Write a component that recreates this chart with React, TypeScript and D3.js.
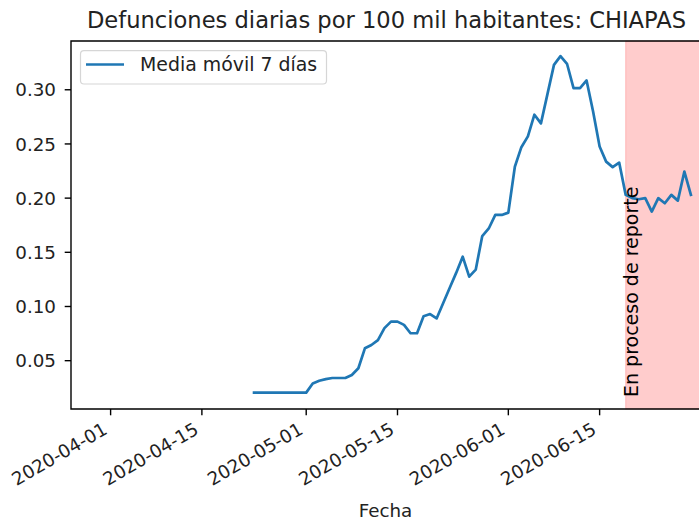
import { useEffect, useRef } from 'react';
import * as d3 from 'd3';

const dates = [
  '2020-04-23', '2020-04-24', '2020-04-25', '2020-04-26', '2020-04-27', '2020-04-28', '2020-04-29', '2020-04-30',
  '2020-05-01', '2020-05-02', '2020-05-03', '2020-05-04', '2020-05-05', '2020-05-06', '2020-05-07', '2020-05-08',
  '2020-05-09', '2020-05-10', '2020-05-11', '2020-05-12', '2020-05-13', '2020-05-14', '2020-05-15', '2020-05-16',
  '2020-05-17', '2020-05-18', '2020-05-19', '2020-05-20', '2020-05-21', '2020-05-22', '2020-05-23', '2020-05-24',
  '2020-05-25', '2020-05-26', '2020-05-27', '2020-05-28', '2020-05-29', '2020-05-30', '2020-05-31', '2020-06-01',
  '2020-06-02', '2020-06-03', '2020-06-04', '2020-06-05', '2020-06-06', '2020-06-07', '2020-06-08', '2020-06-09',
  '2020-06-10', '2020-06-11', '2020-06-12', '2020-06-13', '2020-06-14', '2020-06-15', '2020-06-16', '2020-06-17',
  '2020-06-18', '2020-06-19', '2020-06-20', '2020-06-21', '2020-06-22', '2020-06-23', '2020-06-24', '2020-06-25',
  '2020-06-26', '2020-06-27', '2020-06-28', '2020-06-29',
];

const values = [
  0.0205, 0.0205, 0.0205, 0.0205, 0.0205, 0.0205, 0.0205, 0.0205,
  0.0205, 0.029, 0.0315, 0.033, 0.034, 0.034, 0.034, 0.0368,
  0.043, 0.0614, 0.0645, 0.069, 0.080, 0.086, 0.086, 0.083,
  0.0753, 0.0753, 0.091, 0.093, 0.089, 0.103, 0.117, 0.131,
  0.146, 0.1275, 0.134, 0.165, 0.172, 0.1845, 0.1845, 0.1866,
  0.229, 0.247, 0.257, 0.277, 0.269, 0.296, 0.323, 0.331,
  0.324, 0.3015, 0.3015, 0.3086, 0.280, 0.2476, 0.2337, 0.2286,
  0.2328, 0.203, 0.200, 0.199, 0.200, 0.1876, 0.200, 0.1953,
  0.203, 0.1977, 0.2245, 0.203,
];

const yTicks = [0.05, 0.10, 0.15, 0.20, 0.25, 0.30];
const xTicks = ['2020-04-01', '2020-04-15', '2020-05-01', '2020-05-15', '2020-06-01', '2020-06-15'];
const xLimits = ['2020-03-25T22:13', '2020-06-30T13:12'];
const yLimits = [0.0054, 0.345];
const reportStart = '2020-06-19';

const title = 'Defunciones diarias por 100 mil habitantes: CHIAPAS';
const seriesName = 'Media móvil 7 días';
const xLabel = 'Fecha';
const bandLabel = 'En proceso de reporte';

const parseDay = d3.utcParse('%Y-%m-%d');
const parseTime = d3.utcParse('%Y-%m-%dT%H:%M');

function Chart() {
  const svgRef = useRef<SVGSVGElement>(null);

  useEffect(() => {
    if (!svgRef.current) return;

    const width = 699;
    const height = 523;
    const left = 71, right = 701, top = 41, bottom = 409;
    const font = '"DejaVu Sans", sans-serif';

    const svg = d3.select(svgRef.current)
      .attr('width', width)
      .attr('height', height);
    svg.selectAll('*').remove();

    const x = d3.scaleUtc()
      .domain([parseTime(xLimits[0])!, parseTime(xLimits[1])!])
      .range([left, right]);
    const y = d3.scaleLinear()
      .domain(yLimits)
      .range([bottom, top]);

    svg.append('rect')
      .attr('width', width)
      .attr('height', height)
      .attr('fill', '#fff');

    // "en proceso" band
    const bx = x(parseDay(reportStart)!);
    svg.append('rect')
      .attr('x', bx)
      .attr('y', top)
      .attr('width', right - bx)
      .attr('height', bottom - top)
      .attr('fill', 'red')
      .attr('fill-opacity', 0.2)
      .attr('stroke', 'red')
      .attr('stroke-opacity', 0.2)
      .attr('stroke-width', 1);

    const series = dates.map((d, i) => ({ date: parseDay(d)!, value: values[i] }));
    const line = d3.line<{ date: Date; value: number }>()
      .x(d => x(d.date))
      .y(d => y(d.value));

    svg.append('path')
      .datum(series)
      .attr('d', line)
      .attr('fill', 'none')
      .attr('stroke', '#1f77b4')
      .attr('stroke-width', 2.7)
      .attr('stroke-linejoin', 'round')
      .attr('stroke-linecap', 'square');

    svg.append('text')
      .attr('transform', `translate(${bx + 12.5},397) rotate(-90)`)
      .attr('font-family', font)
      .attr('font-size', 19)
      .attr('fill', '#000')
      .text(bandLabel);

    // spines
    const axisColor = '#000';
    svg.append('path')
      .attr('d', `M${left},${top}V${bottom}H${right}V${top}Z`)
      .attr('fill', 'none')
      .attr('stroke', axisColor)
      .attr('stroke-width', 1.4);

    // y ticks
    const yg = svg.append('g');
    yTicks.forEach(t => {
      yg.append('line')
        .attr('x1', left - 6.3).attr('x2', left)
        .attr('y1', y(t)).attr('y2', y(t))
        .attr('stroke', axisColor).attr('stroke-width', 1.4);
      yg.append('text')
        .attr('x', 56)
        .attr('y', y(t))
        .attr('dy', '0.36em')
        .attr('text-anchor', 'end')
        .attr('font-family', font)
        .attr('font-size', 18.3)
        .attr('fill', '#222')
        .text(t.toFixed(2));
    });

    // x ticks, rotated like autofmt_xdate
    const xg = svg.append('g');
    const rot = 30;
    xTicks.forEach(t => {
      const px = x(parseDay(t)!);
      xg.append('line')
        .attr('x1', px).attr('x2', px)
        .attr('y1', bottom).attr('y2', bottom + 6.3)
        .attr('stroke', axisColor).attr('stroke-width', 1.4);
      xg.append('text')
        .attr('transform', `translate(${px - 2},${bottom + 24}) rotate(${-rot})`)
        .attr('text-anchor', 'end')
        .attr('font-family', font)
        .attr('font-size', 18.3)
        .attr('fill', '#222')
        .text(t);
    });

    svg.append('text')
      .attr('x', (left + right) / 2 - 0.5)
      .attr('y', 516.5)
      .attr('text-anchor', 'middle')
      .attr('font-family', font)
      .attr('font-size', 18.3)
      .attr('fill', '#222')
      .text(xLabel);

    svg.append('text')
      .attr('x', (left + right) / 2 + 0.5)
      .attr('y', 28.3)
      .attr('text-anchor', 'middle')
      .attr('font-family', font)
      .attr('font-size', 22.6)
      .attr('fill', '#222')
      .text(title);

    // legend
    const lg = svg.append('g');
    lg.append('rect')
      .attr('x', 80.5).attr('y', 50.7)
      .attr('width', 246).attr('height', 33.3)
      .attr('rx', 3.5)
      .attr('fill', '#fff').attr('fill-opacity', 0.8)
      .attr('stroke', '#d6d6d6').attr('stroke-width', 1.2);
    lg.append('line')
      .attr('x1', 86).attr('x2', 124)
      .attr('y1', 64.5).attr('y2', 64.5)
      .attr('stroke', '#1f77b4').attr('stroke-width', 2.7);
    lg.append('text')
      .attr('x', 140)
      .attr('y', 64.5)
      .attr('dy', '0.36em')
      .attr('font-family', font)
      .attr('font-size', 18.9)
      .attr('fill', '#222')
      .text(seriesName);
  }, []);

  return <svg ref={svgRef} style={{ display: 'block' }} />;
}

export default function App() {
  return (
    <div style={{ position: 'fixed', left: 0, top: 0, width: 699, height: 523, overflow: 'hidden', background: '#fff' }}>
      <Chart />
    </div>
  );
}
